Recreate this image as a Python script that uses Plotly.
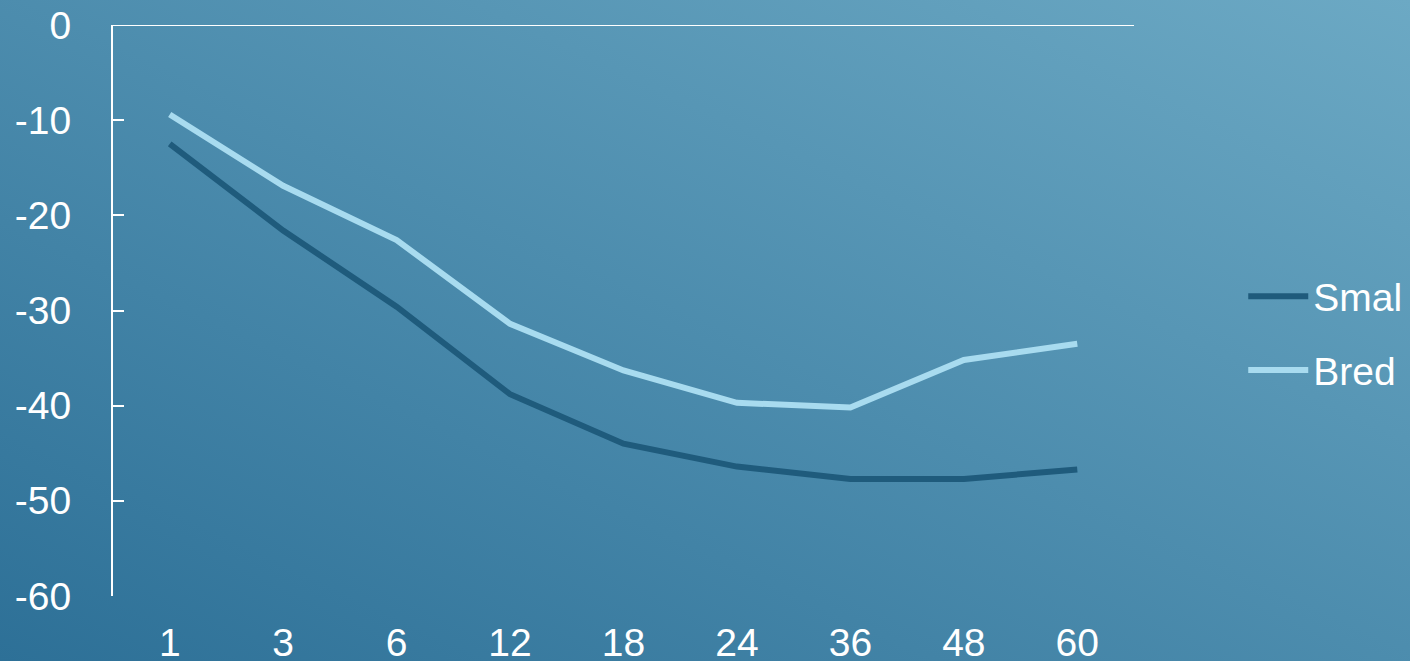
import plotly.graph_objects as go
import urllib.parse

categories = ["1", "3", "6", "12", "18", "24", "36", "48", "60"]
smal = [-12.5, -21.6, -29.6, -38.8, -44.0, -46.4, -47.7, -47.7, -46.7]
bred = [-9.4, -16.9, -22.6, -31.4, -36.3, -39.7, -40.2, -35.2, -33.5]
y_ticks = [0, -10, -20, -30, -40, -50, -60]
y_tick_labels = ["0", "-10", "-20", "-30", "-40", "-50", "-60"]

FONT = "Liberation Sans, Arial, sans-serif"
W, H = 1410, 661
ML, MR, MT, MB = 113, 276, 25, 65
PW, PH = W - ML - MR, H - MT - MB

fig = go.Figure()
fig.add_trace(go.Scatter(x=categories, y=smal, mode="lines", name="Smal",
                         legendgroup="a",
                         line=dict(color="#1f5b7c", width=6)))
fig.add_trace(go.Scatter(x=categories, y=bred, mode="lines", name="Bred",
                         legendgroup="b",
                         line=dict(color="#a8dbef", width=6)))

svg = ('<svg xmlns="http://www.w3.org/2000/svg" width="1410" height="661" '
       'preserveAspectRatio="none" viewBox="0 0 1410 661">'
       '<defs><linearGradient id="g" x1="0" y1="1" x2="1" y2="0">'
       '<stop offset="0" stop-color="#2d7097"/>'
       '<stop offset="1" stop-color="#6ca9c4"/>'
       '</linearGradient></defs>'
       '<rect width="1410" height="661" fill="url(#g)"/></svg>')
src = "data:image/svg+xml;charset=utf-8," + urllib.parse.quote(svg)

fig.add_layout_image(dict(source=src, xref="paper", yref="paper",
                          x=-ML / PW, y=1 + MT / PH, sizex=W / PW, sizey=H / PH,
                          xanchor="left", yanchor="top", sizing="stretch",
                          layer="below"))

fig.add_shape(type="line", xref="paper", yref="y", x0=0, x1=1, y0=0, y1=0,
              line=dict(color="white", width=2))

fig.update_layout(
    width=W, height=H,
    margin=dict(l=ML, r=MR, t=MT, b=MB, autoexpand=False),
    paper_bgcolor="#4a8db0", plot_bgcolor="rgba(0,0,0,0)",
    font=dict(family=FONT, color="white", size=39),
    showlegend=True,
    legend=dict(x=1.107, y=0.46, xanchor="left", yanchor="middle",
                bgcolor="rgba(0,0,0,0)", font=dict(size=39, color="white"),
                tracegroupgap=20, itemwidth=60),
    xaxis=dict(type="category", categoryorder="array", categoryarray=categories,
               range=[-0.5, 8.5], showgrid=False, zeroline=False, showline=False,
               ticks="", tickfont=dict(size=39, color="white"),
               ticklabelstandoff=20),
    yaxis=dict(range=[-60, 0], tickvals=y_ticks, ticktext=y_tick_labels,
               showgrid=False, zeroline=False,
               showline=True, linecolor="white", linewidth=2,
               ticks="inside", ticklen=11, tickcolor="white", tickwidth=2,
               tickfont=dict(size=39, color="white"), ticklabelstandoff=32),
)

fig.write_html("out.html",
               config={"displayModeBar": False},
               post_script="document.body.style.margin='0';"
                           "document.body.style.overflow='hidden';")
